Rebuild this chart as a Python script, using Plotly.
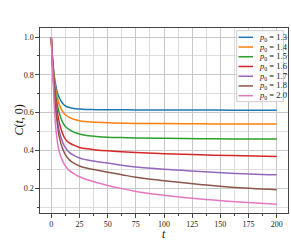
import plotly.graph_objects as go

# ---- data ----
t = [0, 1, 2, 3, 4, 5, 7, 10, 12.5, 16, 20, 25, 30, 40, 50, 62.5, 75, 100, 132, 160, 200]

p0_labels = ["1.3", "1.4", "1.5", "1.6", "1.7", "1.8", "2.0"]
colors = ["#1f77b4", "#ff7f0e", "#2ca02c", "#d62728", "#9467bd", "#8c564b", "#e377c2"]

c_13 = [1.0, 0.90, 0.83, 0.78, 0.745, 0.715, 0.68, 0.65, 0.636, 0.627, 0.622, 0.619, 0.617,
        0.616, 0.615, 0.615, 0.614, 0.614, 0.614, 0.613, 0.613]
c_14 = [1.0, 0.90, 0.82, 0.76, 0.72, 0.69, 0.645, 0.607, 0.589, 0.575, 0.565, 0.557, 0.553,
        0.549, 0.546, 0.544, 0.543, 0.542, 0.541, 0.540, 0.540]
c_15 = [1.0, 0.89, 0.81, 0.74, 0.69, 0.655, 0.60, 0.55, 0.527, 0.51, 0.497, 0.487, 0.48,
        0.474, 0.470, 0.468, 0.466, 0.464, 0.462, 0.461, 0.460]
c_16 = [1.0, 0.88, 0.79, 0.72, 0.66, 0.62, 0.55, 0.49, 0.46, 0.44, 0.428, 0.416, 0.41,
        0.403, 0.398, 0.393, 0.389, 0.383, 0.377, 0.373, 0.368]
c_17 = [1.0, 0.87, 0.77, 0.69, 0.63, 0.58, 0.505, 0.445, 0.415, 0.39, 0.374, 0.36, 0.352,
        0.341, 0.333, 0.322, 0.312, 0.30, 0.289, 0.28, 0.271]
c_18 = [1.0, 0.86, 0.76, 0.67, 0.61, 0.56, 0.475, 0.41, 0.378, 0.35, 0.333, 0.318, 0.308,
        0.296, 0.285, 0.272, 0.258, 0.24, 0.22, 0.205, 0.192]
c_20 = [1.0, 0.85, 0.72, 0.60, 0.52, 0.465, 0.395, 0.345, 0.318, 0.293, 0.277, 0.261, 0.249,
        0.23, 0.215, 0.198, 0.183, 0.163, 0.143, 0.13, 0.115]

series = [c_13, c_14, c_15, c_16, c_17, c_18, c_20]

x_ticks = [0, 25, 50, 75, 100, 125, 150, 175, 200]
y_ticks = [0.2, 0.4, 0.6, 0.8, 1.0]

SERIF = "Liberation Serif"

fig = go.Figure()
for lab, col, ys in zip(p0_labels, colors, series):
    fig.add_trace(go.Scatter(
        x=t, y=ys, mode="lines", name="p0 = " + lab,
        line=dict(color=col, width=1.5, shape="spline", smoothing=1.0),
        showlegend=False, hoverinfo="skip",
    ))

axis_common = dict(
    showline=True, linecolor="#444444", linewidth=1.3, mirror=True,
    ticks="outside", ticklen=3.5, tickwidth=1, tickcolor="#444444",
    showgrid=True, gridcolor="#c8c8c8", gridwidth=1,
    zeroline=False,
    tickfont=dict(family=SERIF, size=8, color="#222222"),
)

fig.update_xaxes(
    range=[-10, 210], tickvals=x_ticks, ticktext=[str(v) for v in x_ticks],
    minor=dict(dtick=12.5, tick0=0, ticks="outside", ticklen=2, tickcolor="#444444",
               showgrid=True, gridcolor="#dedede", gridwidth=1),
    **axis_common,
)
fig.update_yaxes(
    range=[0.069, 1.048], tickvals=y_ticks, ticktext=["%.1f" % v for v in y_ticks],
    minor=dict(dtick=0.1, tick0=0, ticks="outside", ticklen=2, tickcolor="#444444",
               showgrid=True, gridcolor="#dedede", gridwidth=1),
    **axis_common,
)

# plot-area geometry in pixels (for legend placement)
W, H = 291, 240
ML, MR, MT, MB = 40, 3, 28, 27
PW, PH = W - ML - MR, H - MT - MB

def px_x(p):
    return (p - ML) / PW

def px_y(p):
    return (H - MB - p) / PH

shapes = []
annotations = []

# legend box
shapes.append(dict(type="rect", xref="paper", yref="paper",
                   x0=px_x(236.7), x1=px_x(283.3), y0=px_y(101.7), y1=px_y(30.7),
                   line=dict(color="#cccccc", width=1), fillcolor="rgba(255,255,255,0.85)",
                   layer="above"))
row0, step = 37.3, 9.73
for i, (lab, col) in enumerate(zip(p0_labels, colors)):
    yy = px_y(row0 + i * step)
    shapes.append(dict(type="line", xref="paper", yref="paper",
                       x0=px_x(238.5), x1=px_x(253.0), y0=yy, y1=yy,
                       line=dict(color=col, width=1.5), layer="above"))
    annotations.append(dict(xref="paper", yref="paper", x=px_x(257.0), y=yy,
                            xanchor="left", yanchor="middle", showarrow=False,
                            text="<i>p</i><sub>0</sub> = " + lab,
                            font=dict(family=SERIF, size=8.5, color="#222222")))

# axis titles
annotations.append(dict(xref="paper", yref="paper", x=0.5, y=0, yshift=-21,
                        xanchor="center", yanchor="middle", showarrow=False,
                        text="<i>t</i>", font=dict(family=SERIF, size=11.5, color="#111111")))
annotations.append(dict(xref="paper", yref="paper", x=0, y=0.5, xshift=-22,
                        xanchor="center", yanchor="middle", showarrow=False, textangle=-90,
                        text="<i>C</i>(<i>t</i>, 0)", font=dict(family=SERIF, size=12, color="#111111")))

fig.update_layout(
    width=W, height=H, autosize=False,
    margin=dict(l=ML, r=MR, t=MT, b=MB, pad=0),
    paper_bgcolor="white", plot_bgcolor="white",
    shapes=shapes, annotations=annotations,
    showlegend=False,
)

fig.write_html("out.html", config={"displayModeBar": False},
               post_script="document.body.style.margin='0';")
